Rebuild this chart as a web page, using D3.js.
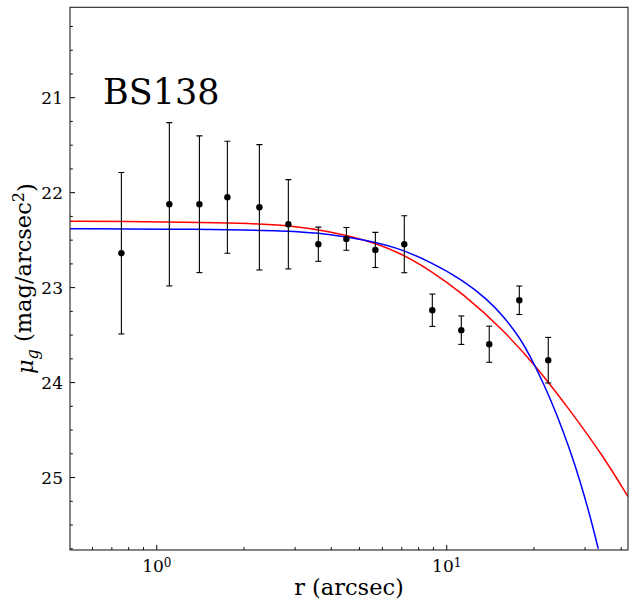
<!DOCTYPE html>
<html>
<head>
<meta charset="utf-8">
<script src="https://cdn.jsdelivr.net/npm/d3@7"></script>
<style>
  body { margin: 0; background: #fff; }
  text { font-family: "DejaVu Serif", serif; fill: #000; }
</style>
</head>
<body>
<div id="chart"></div>
<script>
// observed profile (radius in arcsec, surface brightness, error)
var radius = [0.755, 1.105, 1.403, 1.752, 2.259, 2.843, 3.608, 4.507, 5.674, 7.141, 8.92, 11.23, 14.02, 17.80, 22.4];
var mu = [22.638, 22.122, 22.122, 22.048, 22.154, 22.333, 22.543, 22.487, 22.603, 22.543, 23.238, 23.448, 23.596, 23.133, 23.764];
var muErr = [0.85, 0.86, 0.72, 0.59, 0.66, 0.47, 0.18, 0.12, 0.185, 0.30, 0.17, 0.15, 0.19, 0.15, 0.24];

// fitted profiles
var redR = [0.502, 0.948, 1.410, 2.097, 2.837, 3.960, 5.159, 6.724, 8.759, 11.41, 15.67, 20.43, 26.62, 34.67, 42.19];
var redMu = [22.301, 22.306, 22.314, 22.324, 22.345, 22.408, 22.493, 22.614, 22.814, 23.066, 23.445, 23.835, 24.290, 24.775, 25.2];
var blueR = [0.502, 1.410, 2.837, 3.960, 5.159, 6.724, 8.759, 11.41, 13.74, 15.67, 17.89, 19.38, 21.54, 23.95, 26.62, 28.83, 31.20, 33.33];
var blueMu = [22.379, 22.385, 22.400, 22.435, 22.496, 22.575, 22.726, 22.924, 23.119, 23.298, 23.529, 23.719, 24.003, 24.330, 24.708, 25.035, 25.400, 25.750];

var yTicks = [21, 22, 23, 24, 25];
var xTicks = [1, 10];
var label = "BS138";

var W = 634, H = 608;
var margin = {top: 7.3, right: 6, bottom: 58, left: 70};

var svg = d3.select("#chart").append("svg")
  .attr("width", W).attr("height", H);

var x = d3.scaleLog().domain([0.502, 42.2]).range([margin.left, W - margin.right]);
var y = d3.scaleLinear().domain([20.048, 25.763]).range([margin.top, H - margin.bottom]);

var x0 = x.range()[0], x1 = x.range()[1], y0 = y.range()[0], y1 = y.range()[1];

svg.append("clipPath").attr("id", "clip")
  .append("rect").attr("x", x0).attr("y", y0).attr("width", x1 - x0).attr("height", y1 - y0);

// curves
var line = d3.line().x(function (d) { return x(d[0]); }).y(function (d) { return y(d[1]); })
  .curve(d3.curveBasis);

var plot = svg.append("g").attr("clip-path", "url(#clip)");
plot.append("path").datum(d3.zip(redR, redMu)).attr("d", line)
  .attr("fill", "none").attr("stroke", "#ff0000").attr("stroke-width", 1.5);
plot.append("path").datum(d3.zip(blueR, blueMu)).attr("d", line)
  .attr("fill", "none").attr("stroke", "#0000ff").attr("stroke-width", 1.5);

// error bars + points
var pts = radius.map(function (r, i) { return {r: r, mu: mu[i], e: muErr[i]}; });
var eb = plot.selectAll("g.eb").data(pts).join("g").attr("class", "eb");
eb.append("line")
  .attr("x1", function (d) { return x(d.r); }).attr("x2", function (d) { return x(d.r); })
  .attr("y1", function (d) { return y(d.mu - d.e); }).attr("y2", function (d) { return y(d.mu + d.e); })
  .attr("stroke", "#000").attr("stroke-width", 1.1);
[-1, 1].forEach(function (s) {
  eb.append("line")
    .attr("x1", function (d) { return x(d.r) - 3; }).attr("x2", function (d) { return x(d.r) + 3; })
    .attr("y1", function (d) { return y(d.mu + s * d.e); }).attr("y2", function (d) { return y(d.mu + s * d.e); })
    .attr("stroke", "#000").attr("stroke-width", 1.1);
});
eb.append("circle")
  .attr("cx", function (d) { return x(d.r); }).attr("cy", function (d) { return y(d.mu); })
  .attr("r", 3.2).attr("fill", "#000");

// ticks (inward, left and bottom only)
var tk = svg.append("g").attr("stroke", "#000").attr("stroke-width", 1);
var yMinor = d3.range(20.25, 25.76, 0.25).filter(function (v) { return Math.abs(v - Math.round(v)) > 0.01; });
yTicks.forEach(function (v) {
  tk.append("line").attr("x1", x0).attr("x2", x0 + 5).attr("y1", y(v)).attr("y2", y(v));
});
yMinor.forEach(function (v) {
  tk.append("line").attr("x1", x0).attr("x2", x0 + 2.8).attr("y1", y(v)).attr("y2", y(v));
});
xTicks.forEach(function (v) {
  tk.append("line").attr("x1", x(v)).attr("x2", x(v)).attr("y1", y1).attr("y2", y1 - 5);
});
var xMinor = [];
[0.1, 1, 10].forEach(function (dec) {
  for (var k = 2; k <= 9; k++) {
    var v = k * dec;
    if (v > x.domain()[0] && v < x.domain()[1]) xMinor.push(v);
  }
});
xMinor.forEach(function (v) {
  tk.append("line").attr("x1", x(v)).attr("x2", x(v)).attr("y1", y1).attr("y2", y1 - 2.8);
});

// frame
svg.append("rect").attr("x", x0).attr("y", y0).attr("width", x1 - x0).attr("height", y1 - y0)
  .attr("fill", "none").attr("stroke", "#222").attr("stroke-width", 1.1);

// tick labels
yTicks.forEach(function (v) {
  svg.append("text").attr("x", x0 - 7).attr("y", y(v)).attr("dy", "0.36em")
    .attr("text-anchor", "end").style("font-size", "17px").text(v);
});
xTicks.forEach(function (v) {
  var t = svg.append("text").attr("x", x(v)).attr("y", 572)
    .attr("text-anchor", "middle").style("font-size", "17px");
  t.append("tspan").text("10");
  t.append("tspan").attr("dy", "-0.45em").style("font-size", "12px").text(Math.round(Math.log10(v)));
});

// axis titles
svg.append("text").attr("x", (x0 + x1) / 2).attr("y", 595)
  .attr("text-anchor", "middle").style("font-size", "22.5px").text("r (arcsec)");

var yl = svg.append("text")
  .attr("transform", "translate(33," + ((y0 + y1) / 2) + ") rotate(-90)")
  .attr("text-anchor", "middle").style("font-size", "22.5px");
yl.append("tspan").style("font-style", "italic").text("μ");
yl.append("tspan").attr("dy", "0.3em").style("font-style", "italic").style("font-size", "16px").text("g");
yl.append("tspan").attr("dy", "-0.3em").text(" (mag/arcsec");
yl.append("tspan").attr("dy", "-0.45em").style("font-size", "16px").text("2");
yl.append("tspan").attr("dy", "0.45em").text(")");

// object name
svg.append("text").attr("x", 103).attr("y", 104).style("font-size", "35px").text(label);
</script>
</body>
</html>
